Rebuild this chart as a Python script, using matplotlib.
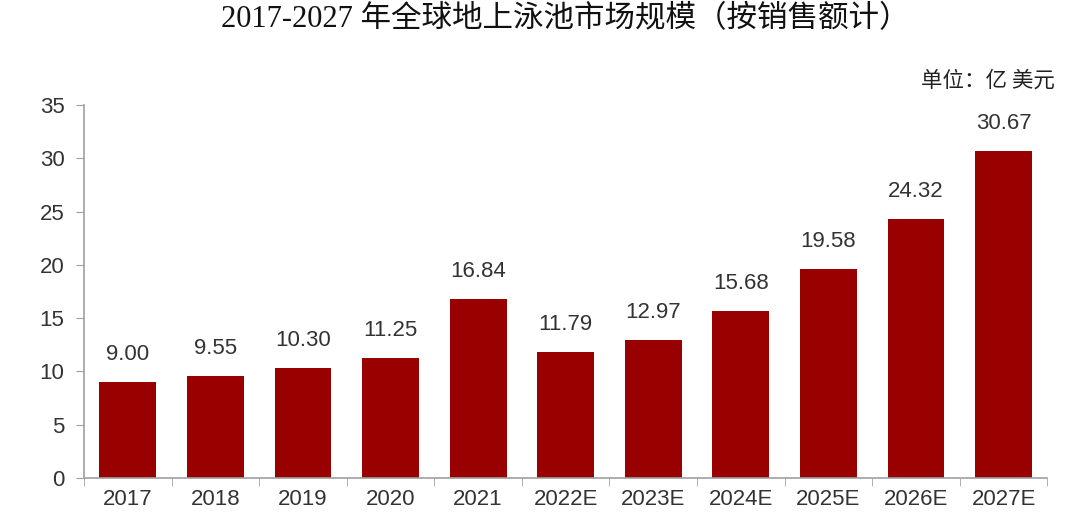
import numpy as np
import matplotlib.pyplot as plt

years = ['2017', '2018', '2019', '2020', '2021', '2022E', '2023E', '2024E', '2025E', '2026E', '2027E']
values = [9.00, 9.55, 10.30, 11.25, 16.84, 11.79, 12.97, 15.68, 19.58, 24.32, 30.67]

plt.rcParams['font.family'] = ['Liberation Sans', 'Noto Sans CJK SC']

fig = plt.figure(figsize=(10.8, 5.13), dpi=100)
ax = fig.add_axes([0.0778, 0.0682, 0.892, 0.727])

x = np.arange(len(years))
bars = ax.bar(x, values, width=0.65, color='#990000')
for xi, v in zip(x, values):
    ax.text(xi, v + 1.6, f'{v:.2f}', ha='center', va='bottom', fontsize=16, color='#333333')

ax.set_xlim(-0.5, len(years) - 0.5)
ax.set_ylim(0, 35)
ax.set_yticks(range(0, 36, 5))
ax.set_xticks(x)
ax.set_xticklabels(years)
ax.set_xticks(np.arange(-0.5, len(years), 1), minor=True)
ax.tick_params(axis='x', which='major', length=0, pad=8, labelsize=16, labelcolor='#333333')
ax.tick_params(axis='x', which='minor', length=6, color='#a0a0a0', direction='out')
ax.tick_params(axis='y', length=6, color='#a0a0a0', labelsize=16, labelcolor='#333333', pad=8)

for s in ['top', 'right']:
    ax.spines[s].set_visible(False)
for s in ['left', 'bottom']:
    ax.spines[s].set_color('#a0a0a0')
    ax.spines[s].set_linewidth(1.2)

fig.text(0.523, 0.963, '2017-2027 年全球地上泳池市场规模（按销售额计）', ha='center', va='center',
         fontsize=22, family=['Liberation Serif', 'Noto Sans CJK SC'], color='#111111')
fig.text(0.977, 0.843, '单位：亿 美元', ha='right', va='center', fontsize=15.5,
         family=['Noto Sans CJK SC'], color='#222222')

fig.savefig('out.png', dpi=100)
